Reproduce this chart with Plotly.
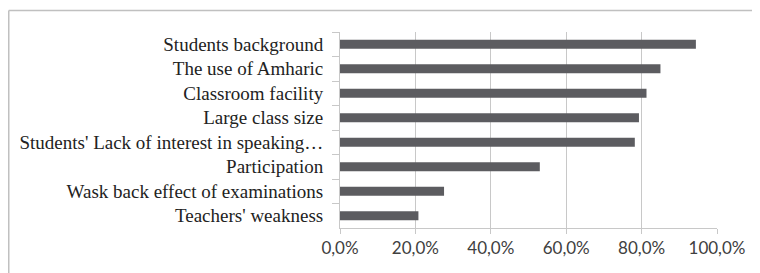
import plotly.graph_objects as go

categories = [
    "Students background",
    "The use of Amharic",
    "Classroom facility",
    "Large class size",
    "Students' Lack of interest in speaking…",
    "Participation",
    "Wask back effect of examinations",
    "Teachers' weakness",
]
values = [0.944, 0.850, 0.813, 0.793, 0.782, 0.530, 0.276, 0.208]
x_ticks = [0, 0.2, 0.4, 0.6, 0.8, 1.0]

# page body keeps its default 8px margin, so the figure is laid out 8px in
OFF = 8
W, H = 760 - OFF, 273 - OFF
L, R, T, B = 340 - OFF, 43, 32 - OFF, 45
pw, ph = W - L - R, H - T - B

def px_x(p):
    return (p - OFF - L) / pw

def px_y(p):
    return (H - B - (p - OFF)) / ph

fig = go.Figure(go.Bar(
    x=values, y=categories, orientation="h",
    marker=dict(color="#5c5c60", line=dict(width=0)),
))

border = dict(color="#c0c0c0", width=1.5)
fig.update_layout(
    width=W, height=H,
    margin=dict(l=L, r=R, t=T, b=B, pad=0),
    paper_bgcolor="white", plot_bgcolor="white",
    separators=", ",
    bargap=0.63,
    showlegend=False,
    xaxis=dict(
        range=[0, 1.0], tickvals=x_ticks, tickformat=".1%",
        showgrid=True, gridcolor="#c8c8c8", gridwidth=1,
        showline=True, linecolor="#c8c8c8", linewidth=1,
        ticks="outside", ticklen=5, tickcolor="#c8c8c8",
        tickfont=dict(family="Lato", size=17, color="#404040"),
        zeroline=False, fixedrange=True, automargin=False,
    ),
    yaxis=dict(
        autorange="reversed", type="category",
        showline=True, linecolor="#c8c8c8", linewidth=1,
        ticks="outside", ticklen=7, tickcolor="#c8c8c8",
        tickson="boundaries",
        ticklabelstandoff=12,
        tickfont=dict(family="Liberation Serif", size=19, color="#222222"),
        showgrid=False, zeroline=False, automargin=False,
    ),
    shapes=[
        dict(type="line", xref="paper", yref="paper",
             x0=px_x(8.75), x1=px_x(760), y0=px_y(10.5), y1=px_y(10.5),
             line=border, layer="above"),
        dict(type="line", xref="paper", yref="paper",
             x0=px_x(8.75), x1=px_x(8.75), y0=px_y(10.5), y1=px_y(273),
             line=border, layer="above"),
    ],
)

fig.write_html("out.html", config={"displayModeBar": False})
